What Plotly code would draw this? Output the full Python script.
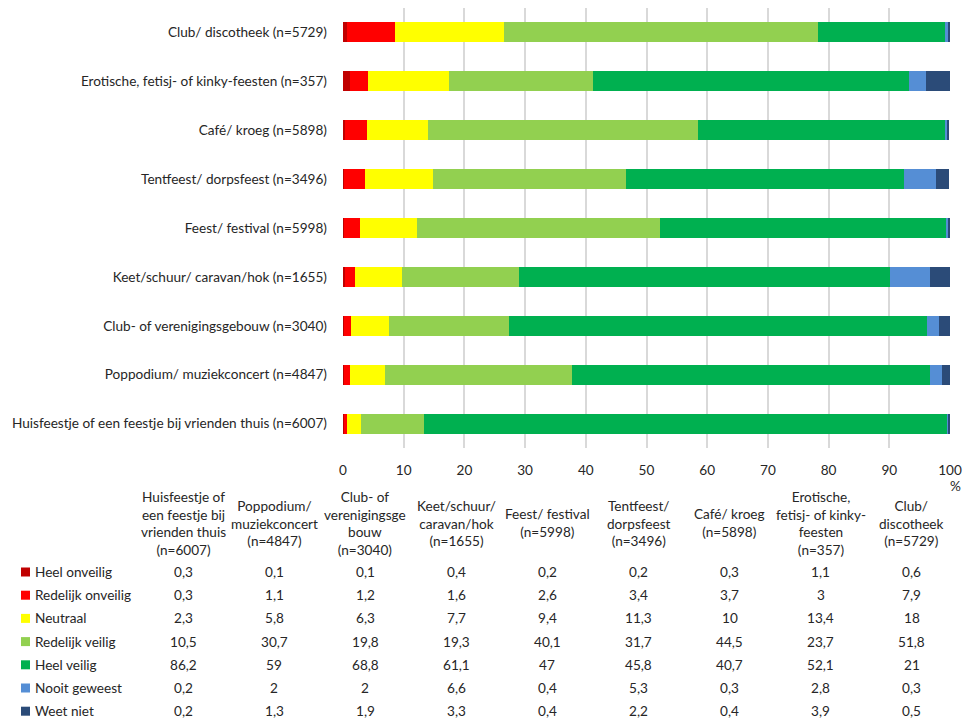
import plotly.graph_objects as go

# categories in table order (bottom bar first)
categories = [
    "Huisfeestje of een feestje bij vrienden thuis (n=6007)",
    "Poppodium/ muziekconcert (n=4847)",
    "Club- of verenigingsgebouw (n=3040)",
    "Keet/schuur/ caravan/hok (n=1655)",
    "Feest/ festival (n=5998)",
    "Tentfeest/ dorpsfeest (n=3496)",
    "Café/ kroeg (n=5898)",
    "Erotische, fetisj- of kinky-feesten (n=357)",
    "Club/ discotheek (n=5729)",
]
table_headers = [
    "Huisfeestje of<br>een feestje bij<br>vrienden thuis<br>(n=6007)",
    "Poppodium/<br>muziekconcert<br>(n=4847)",
    "Club- of<br>verenigingsge<br>bouw<br>(n=3040)",
    "Keet/schuur/<br>caravan/hok<br>(n=1655)",
    "Feest/ festival<br>(n=5998)",
    "Tentfeest/<br>dorpsfeest<br>(n=3496)",
    "Café/ kroeg<br>(n=5898)",
    "Erotische,<br>fetisj- of kinky-<br>feesten<br>(n=357)",
    "Club/<br>discotheek<br>(n=5729)",
]

series_names = ["Heel onveilig", "Redelijk onveilig", "Neutraal", "Redelijk veilig",
                "Heel veilig", "Nooit geweest", "Weet niet"]
heel_onveilig = [0.3, 0.1, 0.1, 0.4, 0.2, 0.2, 0.3, 1.1, 0.6]
redelijk_onveilig = [0.3, 1.1, 1.2, 1.6, 2.6, 3.4, 3.7, 3, 7.9]
neutraal = [2.3, 5.8, 6.3, 7.7, 9.4, 11.3, 10, 13.4, 18]
redelijk_veilig = [10.5, 30.7, 19.8, 19.3, 40.1, 31.7, 44.5, 23.7, 51.8]
heel_veilig = [86.2, 59, 68.8, 61.1, 47, 45.8, 40.7, 52.1, 21]
nooit_geweest = [0.2, 2, 2, 6.6, 0.4, 5.3, 0.3, 2.8, 0.3]
weet_niet = [0.2, 1.3, 1.9, 3.3, 0.4, 2.2, 0.4, 3.9, 0.5]

x_ticks = [0, 10, 20, 30, 40, 50, 60, 70, 80, 90, 100]

series = [heel_onveilig, redelijk_onveilig, neutraal, redelijk_veilig,
          heel_veilig, nooit_geweest, weet_niet]
colors = ["#C00000", "#FF0000", "#FFFF00", "#92D050", "#00B050", "#558ED5", "#2B4B78"]

FONT = "Lato"
FS = 13.6
OFF = 8  # page body margin
W, H = 972 - OFF, 725 - OFF
PLOT_RIGHT = 950  # screen px; the page's right side gets clipped around 963
L, R, T = 343 - OFF, W - (PLOT_RIGHT - OFF), 0
B = H - (448 - OFF)
PW, PH = W - L - R, H - T - B


# helpers: screen pixel (as in the reference) -> paper coords
def px_x(p):
    return (p - OFF - L) / PW


def px_y(p):
    return (H - B - (p - OFF)) / PH


fig = go.Figure()
for name, vals, col in zip(series_names, series, colors):
    fig.add_trace(go.Bar(y=categories, x=vals, name=name, orientation="h",
                         marker=dict(color=col, line=dict(width=0)),
                         hovertemplate="%{y}<br>" + name + ": %{x}<extra></extra>"))

fig.update_layout(
    barmode="stack", bargap=0.59, showlegend=False,
    width=W, height=H, margin=dict(l=L, r=R, t=T, b=B),
    paper_bgcolor="white", plot_bgcolor="white",
    font=dict(family=FONT, size=FS, color="#262626"),
)
fig.update_xaxes(range=[0, 100], tickvals=x_ticks, showgrid=True, gridcolor="#d9d9d9",
                 gridwidth=1.5, zeroline=False, showline=False, ticklabelstandoff=12,
                 tickfont=dict(size=FS))
fig.update_yaxes(showgrid=False, showline=False, ticklabelstandoff=15,
                 tickfont=dict(size=FS))

# "%" under the axis end
fig.add_annotation(x=px_x(955), y=px_y(486), xref="paper", yref="paper", text="%",
                   showarrow=False, xanchor="center", yanchor="middle", font=dict(size=FS))

# data table below the chart
col_x = [183 + 91.1 * i for i in range(len(categories))]
for cx, head in zip(col_x, table_headers):
    fig.add_annotation(x=px_x(cx), y=px_y(523), xref="paper", yref="paper", text=head,
                       showarrow=False, xanchor="center", yanchor="middle",
                       align="center", font=dict(size=FS))

row_y = [572 + 23.2 * j for j in range(len(series_names))]
for ry, name, vals, col in zip(row_y, series_names, series, colors):
    fig.add_shape(type="rect", xref="paper", yref="paper",
                  x0=px_x(21), x1=px_x(30), y0=px_y(ry - 4.5), y1=px_y(ry + 4.5),
                  fillcolor=col, line=dict(width=0))
    fig.add_annotation(x=px_x(33), y=px_y(ry), xref="paper", yref="paper", text=name,
                       showarrow=False, xanchor="left", yanchor="middle", font=dict(size=FS))
    for cx, v in zip(col_x, vals):
        fig.add_annotation(x=px_x(cx), y=px_y(ry), xref="paper", yref="paper",
                           text=f"{v:g}".replace(".", ","), showarrow=False,
                           xanchor="center", yanchor="middle", font=dict(size=FS))

fig.write_html("out.html")
